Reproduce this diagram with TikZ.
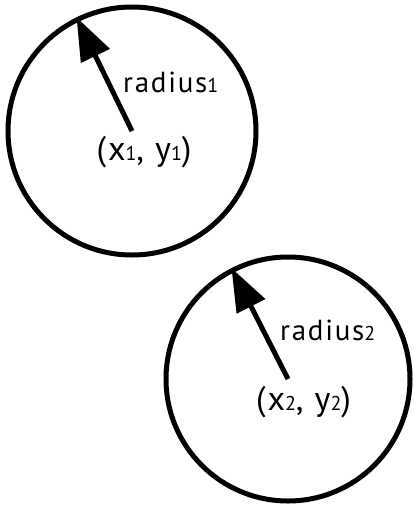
\documentclass[tikz,border=0pt]{standalone}
\usepackage{fontspec}
\setmainfont{PT Sans}
\newfontfamily\lblfont[LetterSpace=6]{PT Sans}
\usetikzlibrary{arrows.meta}

\newcommand{\sub}[1]{{\fontsize{20}{20}\selectfont #1}}

\begin{document}
\begin{tikzpicture}[x=1pt, y=-1pt, >={Triangle[length=43pt,width=31pt]}]
    \tikzstyle{ring}=[circle, draw=black, line width=5pt, inner sep=0pt]
    \tikzstyle{lbl}=[inner sep=0pt, font=\lblfont\fontsize{29}{29}\selectfont]
    \tikzstyle{coordlbl}=[inner sep=0pt, font=\lblfont\fontsize{34}{34}\selectfont]
    \useasboundingbox (0,0) rectangle (414,509);

    \node[ring, minimum size=248pt] (c1) at (132,131) {};
    \node[ring, minimum size=244pt] (c2) at (288,379) {};

    \node[lbl, anchor=base west] (r1) at (123,92) {radius\sub{1}};
    \node[coordlbl, anchor=base] (p1) at (144,160) {(x\sub{1}, y\sub{1})};
    \node[lbl, anchor=base west] (r2) at (280,340) {radius\sub{2}};
    \node[coordlbl, anchor=base] (p2) at (303.5,410) {(x\sub{2}, y\sub{2})};

    \path[->, line width=5pt]
    (c1.center) edge (c1.116)
    (c2.center) edge (c2.117);
\end{tikzpicture}
\end{document}
